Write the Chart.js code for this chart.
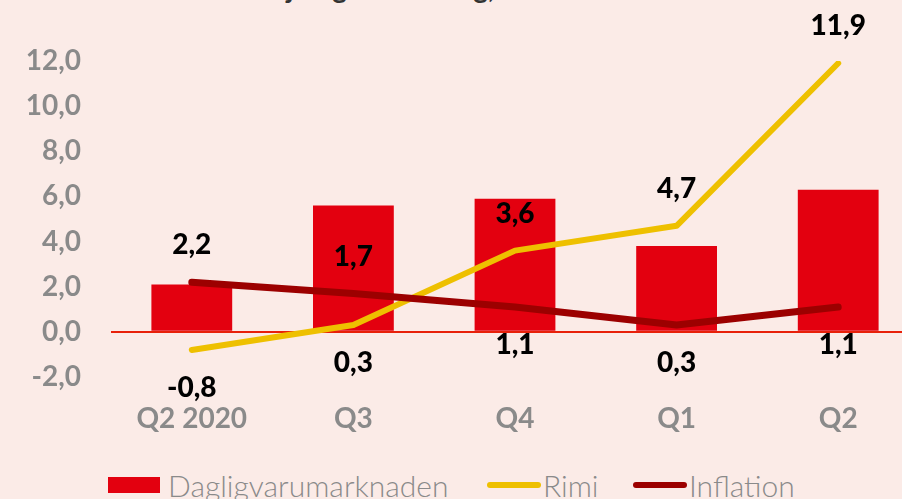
<!DOCTYPE html>
<html>
<head>
<meta charset="utf-8">
<script src="https://cdn.jsdelivr.net/npm/chart.js@4/dist/chart.umd.min.js"></script>
<style>
  html, body { margin: 0; padding: 0; }
  body { width: 902px; height: 499px; overflow: hidden; background: #fbebe7; position: relative; font-family: "Lato", sans-serif; }
  #titel { position: absolute; left: 212px; top: -27px; font: 700 28px/28px "Lato", sans-serif; color: #333; white-space: nowrap; }
  #wrap { position: absolute; left: 0; top: 0; width: 940px; height: 440px; }
  .leg { position: absolute; top: 469px; height: 32px; display: flex; align-items: center; font: 300 30px "Lato", sans-serif; color: #8a8a8a; white-space: nowrap; }
  .leg .box { width: 52px; height: 16px; background: #e3000f; margin-right: 8px; }
  .leg .line { width: 54px; height: 6px; border-radius: 3px; margin-right: 2px; }
</style>
</head>
<body>
<div id="titel">Försäljningsutveckling, %</div>
<div id="wrap"><canvas id="graf" width="940" height="440"></canvas></div>
<div class="leg" style="left:108px"><span class="box"></span>Dagligvarumarknaden</div>
<div class="leg" style="left:487px"><span class="line" style="background:#eec000"></span>Rimi</div>
<div class="leg" style="left:633px"><span class="line" style="background:#9c0000"></span>Inflation</div>
<script>
// kvartal och serier
const kvartal = ["Q2 2020", "Q3", "Q4", "Q1", "Q2"];
const marknaden = [2.1, 5.6, 5.9, 3.8, 6.3];
const rimi = [-0.8, 0.3, 3.6, 4.7, 11.9];
const inflation = [2.2, 1.7, 1.1, 0.3, 1.1];
const yTicks = [-2, 0, 2, 4, 6, 8, 10, 12];

const fmt = v => v.toFixed(1).replace(".", ",");

// etiketter ovanför/under linjepunkterna
const etiketter = {
  id: "etiketter",
  afterDatasetsDraw(chart) {
    const ctx = chart.ctx;
    ctx.save();
    ctx.font = "900 28px Lato";
    ctx.fillStyle = "#000";
    ctx.textAlign = "center";
    ctx.textBaseline = "middle";
    chart.data.datasets.forEach((ds, i) => {
      if (!ds.labelPos) return;
      chart.getDatasetMeta(i).data.forEach((pt, j) => {
        const dy = ds.labelPos[j] === "above" ? -37 : 38;
        ctx.fillText(fmt(ds.data[j]), pt.x, pt.y + dy);
      });
    });
    ctx.restore();
  }
};

new Chart(document.getElementById("graf"), {
  data: {
    labels: kvartal,
    datasets: [
      {
        type: "bar",
        label: "Dagligvarumarknaden",
        data: marknaden,
        backgroundColor: "#e3000f",
        barPercentage: 0.5,
        categoryPercentage: 1,
        order: 3
      },
      {
        type: "line",
        label: "Rimi",
        data: rimi,
        borderColor: "#eec000",
        borderWidth: 6,
        borderCapStyle: "round",
        borderJoinStyle: "round",
        pointRadius: 0,
        labelPos: ["below", "below", "above", "above", "above"],
        order: 2
      },
      {
        type: "line",
        label: "Inflation",
        data: inflation,
        borderColor: "#9c0000",
        borderWidth: 7,
        borderCapStyle: "round",
        borderJoinStyle: "round",
        pointRadius: 0,
        labelPos: ["above", "above", "below", "below", "below"],
        order: 1
      }
    ]
  },
  options: {
    responsive: false,
    animation: false,
    layout: { padding: { top: 61, right: 21, bottom: 0, left: 0 } },
    plugins: { legend: { display: false }, tooltip: { enabled: false } },
    scales: {
      x: {
        grid: { display: false, drawTicks: false },
        border: { display: false },
        ticks: { color: "#8a8a8a", font: { family: "Lato", size: 28, weight: "bold" }, padding: 25 },
        afterFit: s => { s.height = 63; }
      },
      y: {
        min: -2,
        max: 12,
        afterBuildTicks: s => { s.ticks = yTicks.map(v => ({ value: v })); },
        grid: {
          drawTicks: false,
          color: c => c.tick && c.tick.value === 0 ? "#e8200a" : "transparent",
          lineWidth: 2
        },
        border: { display: false },
        ticks: { color: "#8a8a8a", font: { family: "Lato", size: 28, weight: "bold" }, padding: 30, callback: v => fmt(v) },
        afterFit: s => { s.width = 111; }
      }
    }
  },
  plugins: [etiketter]
});
</script>
</body>
</html>
